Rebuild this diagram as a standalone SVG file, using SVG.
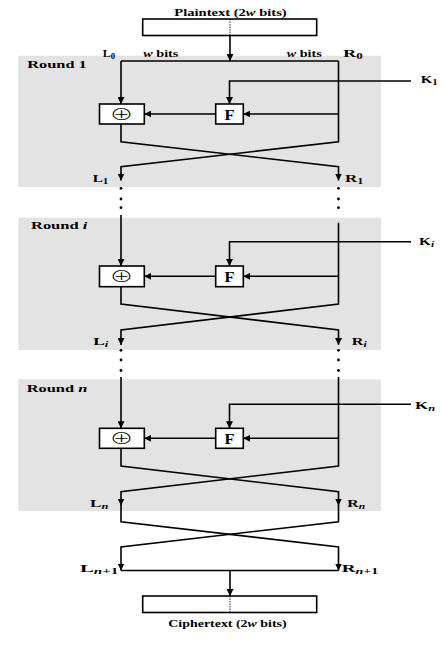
<svg xmlns="http://www.w3.org/2000/svg" width="444" height="662" viewBox="0 0 444 662">
<style>
.bg{fill:#e3e3e3;stroke:none}
.box{fill:#fff;stroke:#000;stroke-width:1.6}
.c{fill:none;stroke:#000;stroke-width:1.6}
.a{marker-end:url(#arr)}
.dash{stroke:#000;stroke-width:0.8;stroke-dasharray:1.5,1}
.dot{fill:#000}
text{font-family:"Liberation Serif","Times New Roman",serif;font-weight:bold;fill:#000}
.lbl{font-size:11px}
.sm{font-size:9.5px}
.rnd{font-size:10.5px}
.sub{font-size:8px}
.it{font-style:italic}
.xor{font-family:"Noto Sans CJK SC","DejaVu Sans",sans-serif;font-weight:300;font-size:16px;text-anchor:middle}
.f{font-size:15px}
</style>
<defs>
<marker id="arr" viewBox="0 0 8 8" refX="8" refY="4" markerWidth="7" markerHeight="7" markerUnits="userSpaceOnUse" orient="auto">
<path d="M0,0 L8,4 L0,8 z" fill="#000"/>
</marker>
</defs>

<g id="round1">
<rect class="bg" x="18.3" y="55.7" width="362.7" height="131.3"/>
<text class="rnd" x="27.3" y="68" textLength="59.4" lengthAdjust="spacingAndGlyphs">Round 1</text>
</g>
<g id="roundi">
<rect class="bg" x="18.3" y="217.7" width="362.7" height="132.3"/>
<text class="rnd" x="31" y="229.3" textLength="56.3" lengthAdjust="spacingAndGlyphs">Round <tspan class="it">i</tspan></text>
</g>
<g id="roundn">
<rect class="bg" x="18.3" y="379.3" width="362.7" height="131.7"/>
<text class="rnd" x="26.7" y="391.7" textLength="60.6" lengthAdjust="spacingAndGlyphs">Round <tspan class="it">n</tspan></text>
</g>

<g id="plaintext">
<text class="sm" x="174.3" y="15.7" textLength="112.4" lengthAdjust="spacingAndGlyphs">Plaintext (2<tspan class="it">w</tspan> bits)</text>
<rect class="box" x="142.7" y="19" width="174" height="16.5"/>
<line class="dash" x1="230" y1="19" x2="230" y2="35.5"/>
</g>

<g id="ciphertext">
<rect class="box" x="142.7" y="596" width="174" height="16.5"/>
<line class="dash" x1="230" y1="596" x2="230" y2="612.5"/>
<text class="sm" x="168.3" y="626.7" textLength="118.4" lengthAdjust="spacingAndGlyphs">Ciphertext (2<tspan class="it">w</tspan> bits)</text>
</g>

<g id="xor1"><rect class="box" x="99.5" y="104" width="44.8" height="20"/><text class="xor" transform="translate(121.5,120) scale(1.5,1)">⊕</text></g>
<g id="f1"><rect class="box" x="215.7" y="104" width="27.6" height="20"/><text class="f" x="224.5" y="120" textLength="10" lengthAdjust="spacingAndGlyphs">F</text></g>
<g id="xori"><rect class="box" x="99.5" y="266" width="44.8" height="20.7"/><text class="xor" transform="translate(121.5,282.3) scale(1.5,1)">⊕</text></g>
<g id="fi"><rect class="box" x="215.7" y="266" width="27.6" height="20.7"/><text class="f" x="224.5" y="282.3" textLength="10" lengthAdjust="spacingAndGlyphs">F</text></g>
<g id="xorn"><rect class="box" x="99.5" y="428.3" width="44.8" height="20"/><text class="xor" transform="translate(121.5,444.3) scale(1.5,1)">⊕</text></g>
<g id="fn"><rect class="box" x="215.7" y="428.3" width="27.6" height="20"/><text class="f" x="224.5" y="444.3" textLength="10" lengthAdjust="spacingAndGlyphs">F</text></g>

<g id="labels">
<text class="lbl" x="102.7" y="56.7" textLength="12.3" lengthAdjust="spacingAndGlyphs">L<tspan class="sub" dy="2">0</tspan></text>
<text class="sm" x="143.3" y="57" textLength="35" lengthAdjust="spacingAndGlyphs"><tspan class="it">w</tspan> bits</text>
<text class="sm" x="286.7" y="57" textLength="35" lengthAdjust="spacingAndGlyphs"><tspan class="it">w</tspan> bits</text>
<text class="lbl" x="343.3" y="56.7" textLength="19.4" lengthAdjust="spacingAndGlyphs">R<tspan class="sub" dy="2">0</tspan></text>
<text class="lbl" x="420.7" y="83.3" textLength="17" lengthAdjust="spacingAndGlyphs">K<tspan class="sub" dy="2">1</tspan></text>
<text class="lbl" x="92.7" y="182.3" textLength="15.6" lengthAdjust="spacingAndGlyphs">L<tspan class="sub" dy="2">1</tspan></text>
<text class="lbl" x="345" y="181.7" textLength="18.3" lengthAdjust="spacingAndGlyphs">R<tspan class="sub" dy="2">1</tspan></text>
<text class="lbl" x="419" y="245" textLength="15" lengthAdjust="spacingAndGlyphs">K<tspan class="sub it" dy="2">i</tspan></text>
<text class="lbl" x="93.3" y="345" textLength="15" lengthAdjust="spacingAndGlyphs">L<tspan class="sub it" dy="2">i</tspan></text>
<text class="lbl" x="351.7" y="345" textLength="15" lengthAdjust="spacingAndGlyphs">R<tspan class="sub it" dy="2">i</tspan></text>
<text class="lbl" x="415" y="409.3" textLength="20" lengthAdjust="spacingAndGlyphs">K<tspan class="sub it" dy="2">n</tspan></text>
<text class="lbl" x="90" y="506.7" textLength="18.3" lengthAdjust="spacingAndGlyphs">L<tspan class="sub it" dy="2">n</tspan></text>
<text class="lbl" x="347.3" y="506.7" textLength="17.7" lengthAdjust="spacingAndGlyphs">R<tspan class="sub it" dy="2">n</tspan></text>
<text class="lbl" x="80" y="571.7" textLength="38.3" lengthAdjust="spacingAndGlyphs">L<tspan class="sub" dy="2"><tspan class="it">n</tspan>+1</tspan></text>
<text class="lbl" x="341.7" y="571.7" textLength="36.6" lengthAdjust="spacingAndGlyphs">R<tspan class="sub" dy="2"><tspan class="it">n</tspan>+1</tspan></text>
</g>

<g id="connectors">
<path class="c a" d="M230,35.5 V61"/>
<path class="c" d="M121,61 H338.5"/>
<path class="c a" d="M121,61 V104"/>
<path class="c a" d="M338.5,61 V141.7 L121,166.7 V180.5"/>
<path class="c a" d="M121,124 V141.7 L338.5,166.7 V180.5"/>
<path class="c a" d="M411,81 H229.5 V104"/>
<path class="c a" d="M338.5,114 H243.3"/>
<path class="c a" d="M215.7,114 H144.3"/>

<path class="c a" d="M121,215 V266"/>
<path class="c a" d="M338.5,222.7 V304 L121,330 V345"/>
<path class="c a" d="M121,286.7 V304 L338.5,330 V345"/>
<path class="c a" d="M411,241.7 H229.5 V266"/>
<path class="c a" d="M338.5,276.3 H243.3"/>
<path class="c a" d="M215.7,276.3 H144.3"/>

<path class="c a" d="M121,377 V428.3"/>
<path class="c a" d="M338.5,377 V466 L121,491.7 V505.5"/>
<path class="c a" d="M121,448.3 V466 L338.5,491.7 V505.5"/>
<path class="c a" d="M411,404.3 H229.5 V428.3"/>
<path class="c a" d="M338.5,438.3 H243.3"/>
<path class="c a" d="M215.7,438.3 H144.3"/>

<path class="c a" d="M121,505 V521.7 L338.5,547 V570.5"/>
<path class="c a" d="M338.5,505 V521.7 L121,547 V570.5"/>
<path class="c" d="M121,570.5 H338.5"/>
<path class="c a" d="M230,570.5 V596"/>

<circle class="dot" cx="121" cy="188.3" r="1.4"/>
<circle class="dot" cx="121" cy="199" r="1.4"/>
<circle class="dot" cx="121" cy="207.7" r="1.4"/>
<circle class="dot" cx="338.5" cy="188.3" r="1.4"/>
<circle class="dot" cx="338.5" cy="199" r="1.4"/>
<circle class="dot" cx="338.5" cy="207.7" r="1.4"/>
<circle class="dot" cx="121" cy="350.3" r="1.4"/>
<circle class="dot" cx="121" cy="360" r="1.4"/>
<circle class="dot" cx="121" cy="370.5" r="1.4"/>
<circle class="dot" cx="338.5" cy="350.3" r="1.4"/>
<circle class="dot" cx="338.5" cy="360" r="1.4"/>
<circle class="dot" cx="338.5" cy="370.5" r="1.4"/>
</g>
</svg>
